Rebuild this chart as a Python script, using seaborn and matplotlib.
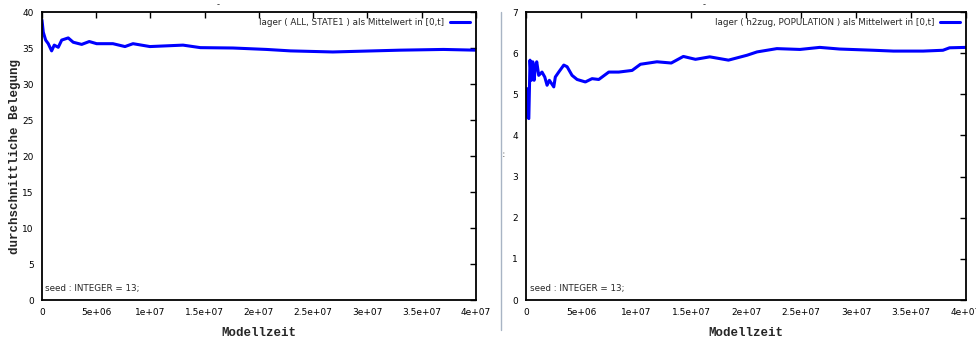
import numpy as np
import pandas as pd
import seaborn as sns
import matplotlib.pyplot as plt
from matplotlib.lines import Line2D

# Modellzeit / Mittelwert values
t_left = [0, 0.12e6, 0.34e6, 0.58e6, 0.89e6, 1.13e6, 1.5e6, 1.82e6, 2.42e6, 2.88e6,
          3.66e6, 4.36e6, 5.04e6, 6.54e6, 7.65e6, 8.39e6, 9.95e6, 13.0e6, 14.6e6,
          17.6e6, 20.7e6, 22.9e6, 26.8e6, 33.0e6, 37.0e6, 40.0e6]
v_left = [38.9, 37.2, 36.1, 35.6, 34.6, 35.4, 35.1, 36.1, 36.4, 35.8,
          35.5, 35.9, 35.6, 35.6, 35.2, 35.6, 35.2, 35.4, 35.05,
          35.0, 34.8, 34.6, 34.45, 34.7, 34.8, 34.7]

t_right = [0.06e6, 0.12e6, 0.25e6, 0.36e6, 0.48e6, 0.61e6, 0.73e6, 0.85e6, 0.97e6,
           1.15e6, 1.45e6, 1.70e6, 1.91e6, 2.12e6, 2.52e6, 2.66e6, 2.97e6, 3.43e6,
           3.73e6, 4.18e6, 4.64e6, 5.39e6, 6.0e6, 6.61e6, 7.52e6, 8.43e6, 9.64e6,
           10.4e6, 11.9e6, 13.2e6, 14.3e6, 15.4e6, 16.7e6, 18.4e6, 20.1e6, 21.0e6,
           22.8e6, 24.9e6, 26.7e6, 28.5e6, 31.6e6, 33.4e6, 36.1e6, 37.9e6, 38.5e6,
           40.0e6]
v_right = [5.14, 4.45, 4.41, 5.83, 5.34, 5.79, 5.34, 5.67, 5.79,
           5.46, 5.54, 5.42, 5.22, 5.34, 5.18, 5.42, 5.54, 5.71,
           5.67, 5.46, 5.36, 5.30, 5.38, 5.36, 5.54, 5.54, 5.58,
           5.73, 5.79, 5.76, 5.92, 5.85, 5.91, 5.83, 5.95, 6.03,
           6.11, 6.09, 6.14, 6.10, 6.07, 6.05, 6.05, 6.07, 6.13,
           6.14]

x_ticks = [0, 5e6, 1e7, 1.5e7, 2e7, 2.5e7, 3e7, 3.5e7, 4e7]
x_ticklabels = ['0', '5e+06', '1e+07', '1.5e+07', '2e+07', '2.5e+07', '3e+07', '3.5e+07', '4e+07']
y_ticks_left = [0, 5, 10, 15, 20, 25, 30, 35, 40]
y_ticks_right = [0, 1, 2, 3, 4, 5, 6, 7]

legend_left = 'lager ( ALL, STATE1 ) als Mittelwert in [0,t]'
legend_right = 'lager ( h2zug, POPULATION ) als Mittelwert in [0,t]'

sns.set_style("white")
plt.rcParams['font.family'] = ['DejaVu Sans']

fig = plt.figure(figsize=(9.76, 3.42), dpi=100)
ax1 = fig.add_axes([0.043, 0.1228, 0.4447, 0.8421])
ax2 = fig.add_axes([0.539, 0.1228, 0.4508, 0.8421])

df_l = pd.DataFrame({'t': t_left, 'v': v_left})
df_r = pd.DataFrame({'t': t_right, 'v': v_right})

for ax, df, ylim, yt, leg in [(ax1, df_l, 40, y_ticks_left, legend_left),
                              (ax2, df_r, 7, y_ticks_right, legend_right)]:
    sns.lineplot(data=df, x='t', y='v', ax=ax, color='#0000ff', linewidth=2.2, label=leg)
    ax.set_xlim(0, 4e7)
    ax.set_ylim(0, ylim)
    ax.set_xticks(x_ticks)
    ax.set_xticklabels(x_ticklabels)
    ax.set_yticks(yt)
    ax.tick_params(direction='in', length=4, width=1, top=True, right=True,
                   labelsize=6.5, colors='black', pad=6)
    for s in ax.spines.values():
        s.set_color('black')
        s.set_linewidth(1.3)
    ax.set_xlabel('Modellzeit', family='Liberation Mono', weight='bold', fontsize=9, labelpad=7)
    ax.set_ylabel('')
    ax.legend(loc='upper right', frameon=False, fontsize=6.3, handlelength=2.3,
              borderaxespad=0.3, markerfirst=False, handletextpad=0.6)
    ax.text(0.008, 0.025, 'seed : INTEGER = 13;', transform=ax.transAxes, fontsize=6.3,
            ha='left', va='bottom')
    ax.text(0.405, 1.01, '-', transform=ax.transAxes, fontsize=6, ha='center', va='bottom')

ax1.set_ylabel('durchschnittliche Belegung', family='Liberation Mono', weight='bold',
               fontsize=9, labelpad=1)
fig.text(0.519, 0.55, "' '", rotation=90, fontsize=4, ha='center', va='center')

fig.add_artist(Line2D([0.5133, 0.5133], [0.035, 0.965], transform=fig.transFigure,
                      color='#a8b4c4', linewidth=1))

plt.savefig('out.png', dpi=100)
